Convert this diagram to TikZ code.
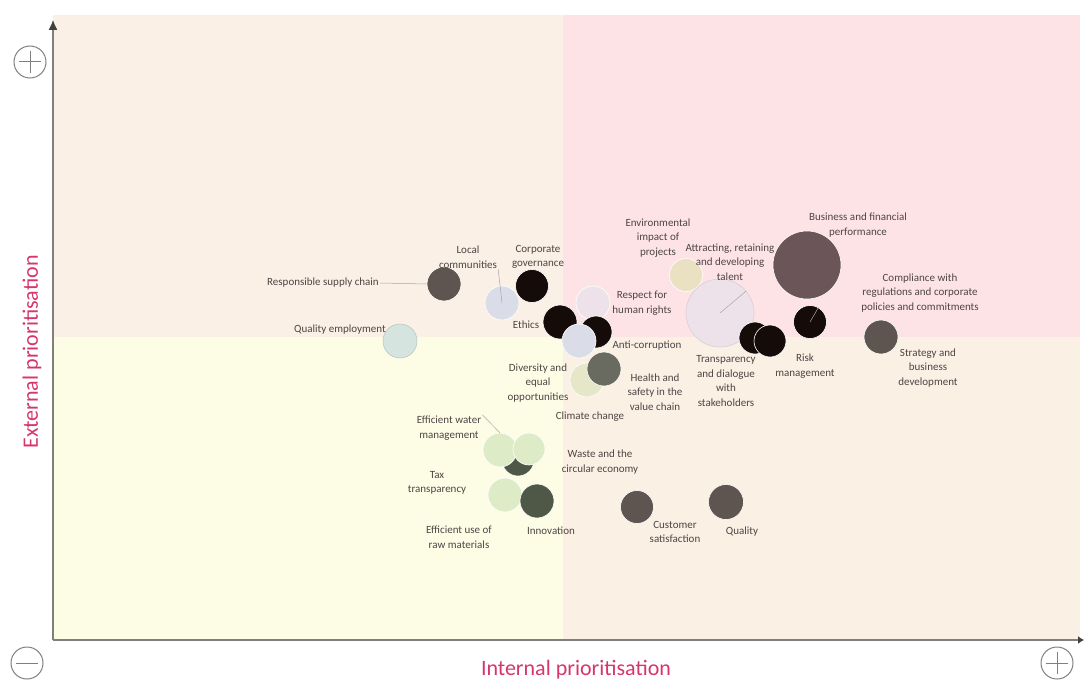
\documentclass[tikz,border=0pt]{standalone}
\usepackage{fontspec}
\setmainfont{Carlito}
\usetikzlibrary{arrows.meta}

\definecolor{bgTL}{HTML}{FAF0E5}
\definecolor{bgTR}{HTML}{FDE3E6}
\definecolor{bgBL}{HTML}{FDFDE6}
\definecolor{bgBR}{HTML}{FAF0E4}
\definecolor{axisgray}{HTML}{7F7F7F}
\definecolor{titlered}{HTML}{D6366B}
\definecolor{txtgray}{HTML}{4E4545}
\definecolor{darkbrown}{HTML}{5E5550}
\definecolor{nearblack}{HTML}{150C0A}
\definecolor{mauve}{HTML}{6B5558}
\definecolor{palelav}{HTML}{EEE2EA}
\definecolor{paleblue}{HTML}{DADDE8}
\definecolor{paleteal}{HTML}{D6E4E0}
\definecolor{palekhaki}{HTML}{E9E1C2}
\definecolor{palegreen}{HTML}{DDEBC6}
\definecolor{paleolive}{HTML}{E6E6C9}
\definecolor{darkolive}{HTML}{4F5746}
\definecolor{greyolive}{HTML}{696A60}

\tikzset{
  bub/.style={circle, inner sep=0pt, draw=white, line width=0.6pt},
  lbl/.style={font=\fontsize{11}{14.5}\selectfont, align=center, text=txtgray, inner sep=1pt},
  lead/.style={draw=gray!70, line width=0.5pt},
  sign/.style={circle, draw=axisgray, line width=1pt, minimum size=32pt, inner sep=0pt},
  bar/.style={draw=axisgray, line width=1pt}
}

\begin{document}
\begin{tikzpicture}[>=latex, x=1pt, y=-1pt]
    \useasboundingbox (0,0) rectangle (1084,682);

    % Quadrants
    \fill[bgTL] (53,15) rectangle (563,337);
    \fill[bgTR] (563,15) rectangle (1080,337);
    \fill[bgBL] (53,337) rectangle (563,640);
    \fill[bgBR] (563,337) rectangle (1080,640);

    % Axes
    \coordinate (O) at (53,640);
    \coordinate (ytop) at (53,20);
    \coordinate (xend) at (1084,640);
    \draw[axisgray, line width=1.2pt, -{Latex[length=10pt, width=9pt, color=black!75]}] (O) -- (ytop);
    \draw[axisgray, line width=1.2pt, -{Latex[length=6pt, width=8pt, color=black!75]}] (O) -- (xend);

    % Plus and minus signs
    \node[sign] (plusY) at (30,62) {};
    \draw[bar] ([yshift=11pt]plusY.center) -- ([yshift=-11pt]plusY.center)
               ([xshift=-11pt]plusY.center) -- ([xshift=11pt]plusY.center);
    \node[sign] (minusX) at (27,663) {};
    \draw[bar] ([xshift=-11pt]minusX.center) -- ([xshift=11pt]minusX.center);
    \node[sign] (plusX) at (1057,663) {};
    \draw[bar] ([yshift=11pt]plusX.center) -- ([yshift=-11pt]plusX.center)
               ([xshift=-11pt]plusX.center) -- ([xshift=11pt]plusX.center);

    % Axis titles
    \node[text=titlered, font=\fontsize{22}{24}\selectfont, rotate=90] (ytitle) at (32,352) {External prioritisation};
    \node[text=titlered, font=\fontsize{22}{24}\selectfont] (xtitle) at (576,670) {Internal prioritisation};

    % Bubbles (back to front)
    \node[bub, minimum size=34pt, fill=darkbrown] (supply) at (444,284) {};
    \node[bub, minimum size=34pt, fill=paleblue] (local) at (502,303) {};
    \node[bub, minimum size=33pt, fill=nearblack] (corpgov) at (532,286) {};
    \node[bub, minimum size=34pt, fill=paleteal, draw=paleteal!70!gray] (qualemp) at (400,341) {};
    \node[bub, minimum size=34pt, fill=palelav] (rights) at (593,303) {};
    \node[bub, minimum size=32pt, fill=nearblack] (anticorr) at (596,332) {};
    \node[bub, minimum size=34pt, fill=nearblack] (ethics) at (560,322) {};
    \node[bub, minimum size=34pt, fill=paleblue] (climate) at (579,341) {};
    \node[bub, minimum size=34pt, fill=paleolive] (diversity) at (587,380) {};
    \node[bub, minimum size=34pt, fill=greyolive] (health) at (604,369) {};
    \node[bub, minimum size=33pt, fill=palekhaki] (envimp) at (686,275) {};
    \node[bub, minimum size=68pt, fill=palelav, draw=palelav!80!gray] (talent) at (720,313) {};
    \node[bub, minimum size=32pt, fill=nearblack] (transp) at (755,338) {};
    \node[bub, minimum size=32pt, fill=nearblack] (transp2) at (770,341) {};
    \node[bub, minimum size=68pt, fill=mauve] (business) at (807,265) {};
    \node[bub, minimum size=33pt, fill=nearblack] (compliance) at (810,322) {};
    \node[bub, minimum size=34pt, fill=darkbrown] (strategy) at (881,337) {};
    \node[bub, minimum size=32pt, fill=darkolive] (waste2) at (518,460) {};
    \node[bub, minimum size=34pt, fill=palegreen] (water) at (500,450) {};
    \node[bub, minimum size=32pt, fill=palegreen] (waste) at (529,449) {};
    \node[bub, minimum size=34pt, fill=palegreen] (tax) at (505,495) {};
    \node[bub, minimum size=34pt, fill=darkolive] (innov) at (537,501) {};
    \node[bub, minimum size=33pt, fill=darkbrown] (customer) at (637,507) {};
    \node[bub, minimum size=35pt, fill=darkbrown] (quality) at (726,502) {};

    % Labels
    \node[lbl] (supplyL) at (323,283) {Responsible supply chain};
    \node[lbl] (localL) at (468,257) {Local\\communities};
    \node[lbl] (corpgovL) at (538,257) {Corporate\\governance};
    \node[lbl] (qualempL) at (340,330) {Quality employment};
    \node[lbl] (ethicsL) at (526,325) {Ethics};
    \node[lbl] (rightsL) at (642,303) {Respect for\\human rights};
    \node[lbl] (anticorrL) at (647,346) {Anti-corruption};
    \node[lbl] (diversityL) at (538,383) {Diversity and\\equal\\opportunities};
    \node[lbl] (healthL) at (655,392) {Health and\\safety in the\\value chain};
    \node[lbl] (climateL) at (590,417) {Climate change};
    \node[lbl] (envimpL) at (658,238) {Environmental\\impact of\\projects};
    \node[lbl] (talentL) at (730,262) {Attracting, retaining\\and developing\\talent};
    \node[lbl] (transpL) at (726,381) {Transparency\\and dialogue\\with\\stakeholders};
    \node[lbl] (businessL) at (858,225) {Business and financial\\performance};
    \node[lbl] (complianceL) at (920,293) {Compliance with\\regulations and corporate\\policies and commitments};
    \node[lbl] (riskL) at (805,366) {Risk\\management};
    \node[lbl] (strategyL) at (928,368) {Strategy and\\business\\development};
    \node[lbl] (waterL) at (449,428) {Efficient water\\management};
    \node[lbl] (wasteL) at (600,462) {Waste and the\\circular economy};
    \node[lbl] (taxL) at (437,483) {Tax\\transparency};
    \node[lbl] (rawL) at (459,537) {Efficient use of\\raw materials};
    \node[lbl] (innovL) at (551,531) {Innovation};
    \node[lbl] (customerL) at (675,532) {Customer\\satisfaction};
    \node[lbl] (qualityL) at (742,532) {Quality};

    % Leader lines
    \draw[lead] (supplyL.east) -- (supply.west);
    \draw[lead] (localL.south east) -- (local.center);
    \draw[lead] (waterL.north east) -- (water.north);
    \draw[lead] (talent.center) -- (talent.40);
    \draw[lead] (compliance.center) -- (compliance.60);
\end{tikzpicture}
\end{document}
